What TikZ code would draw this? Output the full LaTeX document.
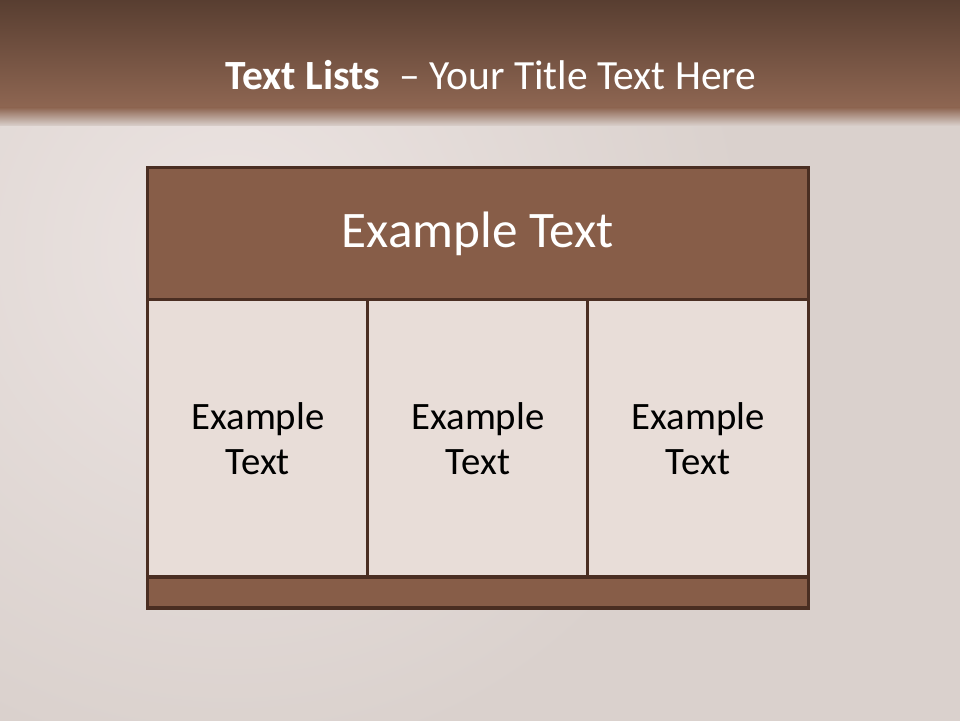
\documentclass[tikz,border=0pt]{standalone}
\usepackage{fontspec}
\setmainfont{Carlito}
\usepackage{tikz}
\definecolor{bandtop}{HTML}{573D30}
\definecolor{bandlow}{HTML}{8E6652}
\definecolor{backgr}{HTML}{DAD1CD}
\definecolor{backlight}{HTML}{ECE4E2}
\definecolor{headbrown}{HTML}{875D48}
\definecolor{cellpink}{HTML}{E8DDD8}
\definecolor{edgebrown}{HTML}{4A2E22}

\begin{document}
\begin{tikzpicture}[x=0.01in,y=0.01in,
    panel/.style={draw=edgebrown,line width=2.2pt,inner sep=0pt,outer sep=0pt},
    headbox/.style={panel,fill=headbrown,text=white,minimum width=6.6in,minimum height=1.32in,font=\fontsize{37}{44}\selectfont},
    cellbox/.style={panel,fill=cellpink,text=black,minimum width=2.2in,minimum height=2.77in,align=center,font=\fontsize{28}{32.5}\selectfont},
    footbox/.style={panel,fill=headbrown,minimum width=6.6in,minimum height=0.31in}]
    \useasboundingbox (0,0) rectangle (960,720);
    % background
    \begin{scope}
    \clip (-3,-3) rectangle (963,723);
    \fill[backgr] (-3,-3) rectangle (963,723);
    \shade[inner color=backlight,outer color=backgr] (230,470) circle (520);
    \end{scope}
    \shade[top color=bandtop,bottom color=bandlow] (-3,723) rectangle (963,612);
    \shade[top color=bandlow,bottom color=backgr] (-3,612.5) rectangle (963,594);

    \node (title) at (491,645) {\color{white}\fontsize{30}{36}\selectfont\textbf{Text Lists}\ \ – Your Title Text Here};

    \node[headbox] (head) at (478,486) {\raisebox{-2.2pt}{Example Text}};
    \node[cellbox] (c1) at (258,281.5) {Example\\Text};
    \node[cellbox] (c2) at (478,281.5) {Example\\Text};
    \node[cellbox] (c3) at (698,281.5) {Example\\Text};
    \node[footbox] (foot) at (478,127.5) {};
\end{tikzpicture}
\end{document}
